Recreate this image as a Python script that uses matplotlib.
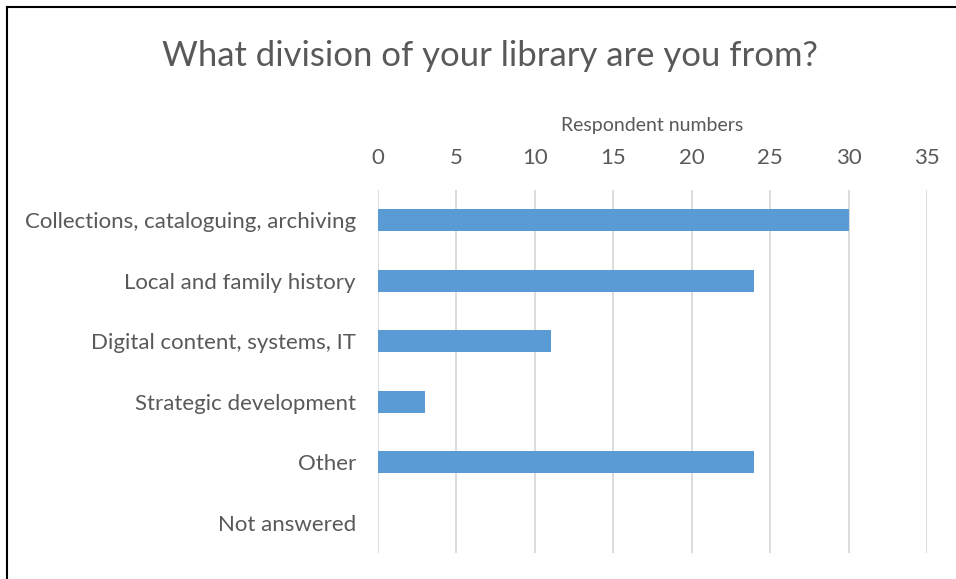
import matplotlib.pyplot as plt
from matplotlib.lines import Line2D

categories = ['Collections, cataloguing, archiving', 'Local and family history',
              'Digital content, systems, IT', 'Strategic development', 'Other', 'Not answered']
counts = [30, 24, 11, 3, 24, 0]
xticks = [0, 5, 10, 15, 20, 25, 30, 35]

TXT = '#595959'
plt.rcParams['font.family'] = ['Lato', 'DejaVu Sans']

fig = plt.figure(figsize=(9.56, 5.79), dpi=100)
ax = fig.add_axes([0.3954, 0.0449, 0.5743, 0.6269])

ypos = list(range(len(categories)))
ax.barh(ypos, counts, height=0.36, color='#5B9BD5', zorder=3)
ax.set_ylim(len(categories) - 0.5, -0.5)
ax.set_yticks(ypos)
ax.set_yticklabels(categories, fontsize=16, color=TXT)

ax.set_xlim(0, 35)
ax.set_xticks(xticks)
ax.xaxis.tick_top()
ax.xaxis.set_label_position('top')
ax.tick_params(axis='x', labelsize=16, labelcolor=TXT, length=0, pad=16)
ax.tick_params(axis='y', length=0, pad=16)
ax.set_xlabel('Respondent numbers', fontsize=14, color=TXT, labelpad=12)
ax.grid(axis='x', color='#D9D9D9', linewidth=1.3, zorder=0)
for s in ax.spines.values():
    s.set_visible(False)

fig.text(0.513, 0.903, 'What division of your library are you from?',
         ha='center', va='center', fontsize=24.9, color=TXT)

# frame of the chart area (only top and left edges are in the image)
fig.add_artist(Line2D([0.0075, 1], [0.988, 0.988], color='black', lw=1.5, transform=fig.transFigure))
fig.add_artist(Line2D([0.0075, 0.0075], [0, 0.988], color='black', lw=1.5, transform=fig.transFigure))

fig.savefig('out.png', dpi=100)
